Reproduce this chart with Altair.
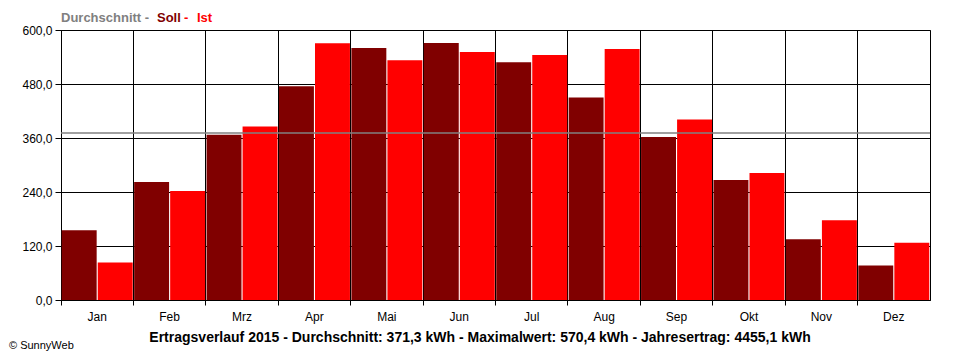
import altair as alt
import pandas as pd

months = ["Jan", "Feb", "Mrz", "Apr", "Mai", "Jun", "Jul", "Aug", "Sep", "Okt", "Nov", "Dez"]
soll = [155.0, 262.4, 367.5, 474.8, 559.8, 571.0, 528.5, 450.2, 362.3, 266.8, 134.9, 76.7]
ist = [83.4, 242.2, 385.4, 570.4, 533.0, 550.9, 544.2, 557.6, 401.0, 282.5, 177.4, 127.1]
average = 371.3
y_ticks = [0, 120, 240, 360, 480, 600]

title_parts = ["Durchschnitt - ", "Soll", " - ", "Ist"]
title_colors = ["#808080", "#800000", "#ff0000", "#ff0000"]
caption = "Ertragsverlauf 2015 - Durchschnitt: 371,3 kWh - Maximalwert: 570,4 kWh - Jahresertrag: 4455,1 kWh"
copyright_text = "© SunnyWeb"

rows = []
for m, s, i in zip(months, soll, ist):
    rows.append({"month": m, "series": "Soll", "value": s})
    rows.append({"month": m, "series": "Ist", "value": i})
df = pd.DataFrame(rows)

FONT = "Liberation Sans"

bars = alt.Chart(df).mark_bar(opacity=1).encode(
    x=alt.X("month:N", sort=months,
            scale=alt.Scale(paddingInner=0, paddingOuter=0),
            axis=alt.Axis(title=None, bandPosition=0, grid=True, gridColor="black",
                          gridOpacity=1, domainColor="black", tickColor="black",
                          tickSize=5, labelAngle=0, labelPadding=6,
                          labelFont=FONT, labelFontSize=12, labelColor="black")),
    xOffset=alt.XOffset("series:N", sort=["Soll", "Ist"],
                        scale=alt.Scale(paddingInner=0.03, paddingOuter=0.02)),
    y=alt.Y("value:Q", scale=alt.Scale(domain=[0, 600], nice=False),
            axis=alt.Axis(title=None, values=y_ticks, grid=True, gridColor="black",
                          gridOpacity=1, domainColor="black", tickColor="black",
                          tickSize=6, labelPadding=3,
                          labelExpr="replace(format(datum.value, '.1f'), '.', ',')",
                          labelFont=FONT, labelFontSize=12, labelColor="black")),
    color=alt.Color("series:N", scale=alt.Scale(domain=["Soll", "Ist"],
                                                range=["#800000", "#ff0000"]),
                    legend=None),
)

avg_rule = alt.Chart(pd.DataFrame({"v": [average]})).mark_rule(
    color="#808080", strokeWidth=1.5
).encode(y="v:Q")

title_x = [0, 96, 123, 136]
title_layers = []
for t, c, x in zip(title_parts, title_colors, title_x):
    title_layers.append(
        alt.Chart(pd.DataFrame({"t": [t]})).mark_text(
            font=FONT, fontSize=13, fontWeight="bold", color=c, align="left",
            baseline="alphabetic"
        ).encode(text="t:N", x=alt.value(x), y=alt.value(-8))
    )

cap = alt.Chart(pd.DataFrame({"t": [caption]})).mark_text(
    font=FONT, fontSize=14, fontWeight="bold", color="black", align="center",
    baseline="middle"
).encode(text="t:N", x=alt.value(419), y=alt.value(38 + 270))

copy = alt.Chart(pd.DataFrame({"t": [copyright_text]})).mark_text(
    font=FONT, fontSize=11, color="black", align="left", baseline="middle"
).encode(text="t:N", x=alt.value(-52), y=alt.value(46 + 270))

chart = alt.layer(bars, avg_rule, *title_layers, cap, copy).properties(
    width=869, height=270,
    autosize=alt.AutoSizeParams(type="none"),
    padding={"left": 53, "top": 22, "right": 20, "bottom": 52},
).configure_view(stroke="black", strokeWidth=1)

chart.save("out.html", embed_options={"renderer": "svg", "actions": False})
